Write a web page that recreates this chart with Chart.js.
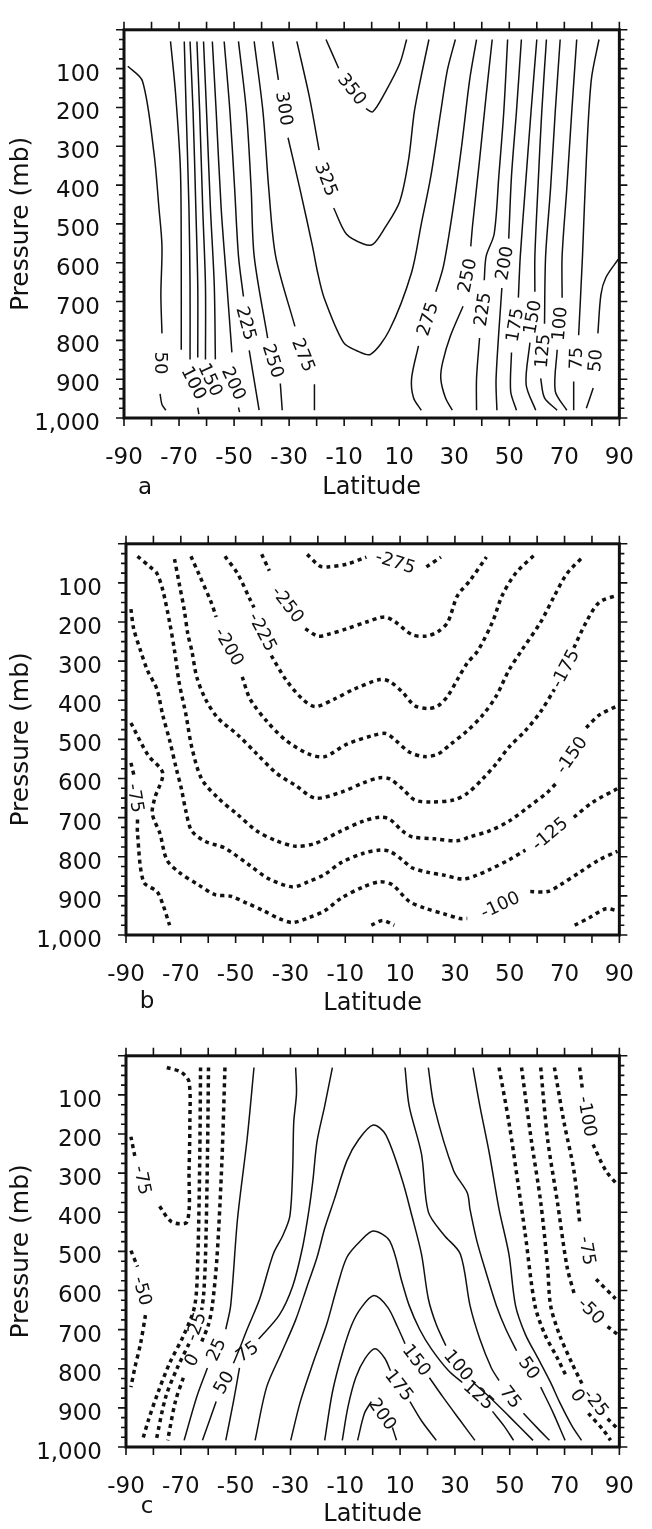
<!DOCTYPE html>
<html>
<head>
<meta charset="utf-8">
<title>Zonal mean cross sections</title>
<script src="https://cdn.jsdelivr.net/npm/chart.js@4.4.1/dist/chart.umd.min.js"></script>
<style>
  html, body { margin: 0; padding: 0; background: #fff; }
  canvas { position: absolute; left: 0; }
</style>
</head>
<body>
<canvas id="panelA" width="652" height="510" style="top:0px"></canvas>
<canvas id="panelB" width="652" height="510" style="top:514px"></canvas>
<canvas id="panelC" width="652" height="503" style="top:1026px"></canvas>
<script>
const FONT = 'DejaVu Sans';

// axis labels shared by the three panels
const latTicks = [-90, -70, -50, -30, -10, 10, 30, 50, 70, 90];
const pressTicks = [100, 200, 300, 400, 500, 600, 700, 800, 900, 1000];

// ---- panel a : contour paths as [latitude, pressure], null = break for a label
const levelsA = [50, 75, 100, 125, 150, 175, 200, 225, 250, 275, 300, 325, 350,
                 275, 250, 225, 200, 175, 150, 125, 100, 75, 50];
const pathsA = [
  [[-88.6,94],[-83.3,132],[-79.1,318],[-77.3,459],[-76.2,558],[-76.6,682],[-76.2,782],null,[-76.9,938],[-76.2,965],[-74.8,980]],
  [[-73.1,30],[-71.3,161],[-69.5,360],[-69.2,583],[-69.2,824]],
  [[-68.1,30],[-67.4,211],[-66.4,459],[-66.0,658],[-66.0,849],null,[-63.2,973],[-62.8,990]],
  [[-66.0,30],[-64.9,211],[-63.9,459],[-63.2,658],[-63.2,844]],
  [[-63.5,30],[-62.5,211],[-61.4,459],[-60.4,658],[-60.4,849]],
  [[-61.1,30],[-60.0,211],[-58.6,459],[-57.2,658],[-56.8,849]],
  [[-57.9,30],[-56.5,211],[-54.7,459],[-52.6,658],[-50.8,831],null,[-48.4,973],[-48.0,985]],
  [[-53.6,30],[-51.5,211],[-49.8,409],[-48.4,583],[-46.6,687],null,[-44.5,826],[-40.9,980]],
  [[-48.4,30],[-45.5,211],[-43.8,409],[-42.7,583],[-37.8,794],null,[-33.2,911],[-32.5,980]],
  [[-42.7,30],[-39.5,211],[-37.4,409],[-34.9,583],[-27.9,764],null,[-20.8,913],[-20.8,980]],
  [[-36.0,30],[-33.9,129],null,[-30.4,278],[-26.1,409],[-21.5,558],[-19.8,620],[-17.3,690],[-10.2,806],[-5.6,826],[-0.4,836],[6.4,774],[14.5,625],[18.0,501],[21.5,377],[25.1,211],[27.5,104],[30.4,25]],
  [[-27.2,30],[-22.6,174],[-19.1,310],null,[-13.8,459],[-9.2,526],[-3.2,551],[0.4,553],[4.9,509],[10.2,442],[13.4,335],[15.5,211],[18.0,119],[20.8,25]],
  [[-16.6,25],[-12.0,99],null,[-2.1,203],[0.4,211],[4.9,161],[10.2,87],[12.7,25]],
  [[38.1,25],[35.6,129],[32.8,293],[29.6,459],[26.1,608],[23.3,675],null,[17.0,814],[14.5,898],[15.2,948],[18.0,980]],
  [[43.8,25],[41.6,169],[39.2,335],[36.7,501],[36.0,558],null,[33.2,712],[28.6,789],[25.8,856],[25.1,898],[26.8,948],[29.3,980]],
  [[49.4,25],[48.0,211],[46.2,377],[44.5,526],[41.6,583],[40.9,645],null,[39.2,794],[38.1,898],[38.1,980]],
  [[54.4,25],[52.6,211],[50.8,377],[49.8,538],null,[47.3,665],[45.2,898],[45.5,980]],
  [[60.0,25],[57.9,211],[55.8,409],[54.0,583],[53.3,690],null,[50.8,831],[50.5,931],[52.6,980]],
  [[63.5,25],[61.8,211],[60.4,409],[59.3,583],[59.3,675],null,[57.5,806],[56.1,913],[59.6,980]],
  [[68.5,25],[66.7,211],[65.0,409],[63.2,583],[62.8,757],null,[61.4,898],[62.8,948],[67.4,980]],
  [[74.5,25],[72.7,211],[70.9,409],[69.2,583],[69.2,690],null,[67.4,824],[66.7,931],[70.9,980]],
  [[82.6,25],[79.8,129],[78.0,335],[76.6,583],[75.2,787],null,[73.4,906],[73.4,980]],
  [[89.6,591],[85.1,638],[83.3,682],[82.2,782],null,[80.5,923],[78.0,975]]
];
// [path index, latitude, pressure, angle in degrees]
const labelsA = [
  [0,-76.5,858,90],[2,-64.6,910,63],[4,-58.6,901,65],[6,-50.1,911,65],
  [7,-45.6,756,75],[8,-35.8,853,72],[9,-24.8,838,68],[10,-31.8,203,81],
  [11,-16.5,385,69],[12,-7.1,153,52],[13,20.3,745,-72],[14,34.7,633,-78],
  [15,40.3,720,-82],[16,48.2,601,-80],[17,52.0,760,-80],[18,58.4,740,-80],
  [19,62.1,827,-85],[20,68.3,757,-85],[21,74.3,846,-88],[22,81.3,852,-85]
];

// ---- panel b
const levelsB = [-275, -250, -225, -200, -175, -150, -125, -100, -75, -75, -75];
const pathsB = [
  [[-23.9,27],[-19.3,57],[-16.5,59],[-9.4,52],[-2.3,34],null,[19.6,59],[24.9,34]],
  [[-40.5,27],[-37.7,69],null,[-24.6,217],[-20.0,236],[-16.5,232],[-9.4,217],[-2.3,200],[4.4,187],[8.3,200],[14.3,232],[19.6,236],[23.9,224],[27.4,200],[30.9,133],[35.5,94],[41.5,34]],
  [[-53.9,32],[-49.3,76],[-44.7,143],[-43.3,163],null,[-37.0,286],[-31.7,347],[-25.6,397],[-21.0,416],[-14.0,397],[-6.9,372],[2.6,347],[6.2,352],[10.8,379],[15.4,414],[20.3,421],[23.9,414],[27.4,389],[30.9,347],[34.5,305],[38.4,273],[43.7,200],[47.2,133],[52.1,76],[59.2,27]],
  [[-66.3,32],[-63.5,76],[-58.9,150],[-57.1,187],null,[-47.6,340],[-44.7,397],[-38.7,453],[-31.7,502],[-23.5,537],[-17.5,544],[-9.4,512],[0.2,490],[4.8,485],[8.3,502],[13.3,532],[18.9,544],[23.9,537],[28.5,512],[34.5,478],[40.1,438],[45.1,389],[49.7,323],[54.3,273],[61.3,200],[66.3,133],[70.9,76],[76.9,32]],
  [[-72.3,39],[-70.6,101],[-68.8,167],[-67.4,232],[-66.0,273],[-64.2,340],[-61.0,397],[-56.4,446],[-49.3,488],[-42.3,537],[-35.2,586],[-28.1,618],[-21.0,650],[-11.5,635],[-3.4,611],[2.6,598],[6.2,601],[10.8,626],[15.4,655],[21.4,660],[29.5,655],[34.5,638],[40.1,601],[45.1,562],[49.7,520],[55.7,478],[61.3,429],[66.3,372],null,[73.4,266],[77.9,200],[82.6,150],[89.3,131]],
  [[-85.8,32],[-81.2,59],[-78.7,76],[-76.6,118],[-74.1,200],[-72.3,273],[-70.6,355],[-68.1,438],[-66.0,520],[-62.4,601],[-56.4,650],[-49.3,692],[-42.3,734],[-35.2,759],[-28.1,773],[-21.0,766],[-11.5,734],[-3.4,709],[2.6,699],[6.2,704],[10.8,734],[14.3,749],[22.4,754],[30.9,759],[35.5,749],[42.6,734],[49.7,709],[56.4,675],[63.8,635],[67.1,611],null,[77.9,470],[82.6,438],[89.3,414]],
  [[-88.2,167],[-87.2,217],[-84.7,273],[-82.2,323],[-78.7,372],[-76.6,438],[-74.1,502],[-71.6,576],[-69.8,626],[-68.1,685],[-66.0,734],[-61.0,761],[-53.9,778],[-44.7,823],[-37.7,857],[-29.2,877],[-23.5,864],[-17.5,845],[-11.5,815],[-3.4,791],[2.6,783],[6.2,786],[10.8,808],[14.3,828],[20.3,840],[26.0,847],[33.0,857],[38.0,847],[42.6,833],[49.7,808],[55.7,783],null,[73.4,699],[80.4,660],[89.3,626]],
  [[-88.2,458],[-82.0,540],[-76.6,586],[-79.5,650],[-80.4,690],[-77.6,741],[-75.1,808],[-70.6,840],[-63.5,872],[-57.5,897],[-51.8,901],[-45.8,919],[-39.8,938],[-34.1,958],[-29.2,968],[-23.5,956],[-17.5,938],[-11.5,906],[-3.4,877],[2.6,864],[7.2,872],[13.3,914],[18.9,931],[26.0,946],[32.0,958],[34.5,958],null,[57.5,889],[63.8,889],[68.4,872],[75.5,840],[82.6,808],[89.3,786]],
  [[-88.2,560],[-87.0,595],null,[-85.8,705],[-85.8,741],[-83.6,864],[-78.7,889],[-76.6,921],[-74.1,975]],
  [[-0.5,975],[3.7,963],[7.9,975]],
  [[73.7,975],[79.0,956],[85.0,933],[89.3,938]]
];
const labelsB = [
  [0,8.3,47,18],[1,-31.0,155,52],[2,-40.2,225,62],[3,-52.4,263,60],
  [4,70.2,319,-62],[5,72.5,540,-55],[6,64.6,741,-40],[7,46.5,923,-25],[8,-86.5,650,80]
];

// ---- panel c
const levelsC = [25, 50, 75, 100, 125, 150, 175, 200, 75, 50, 25, 0, -25, -50, -75, -100,
                 -75, -50, -25, 0, -50];
const pathsC = [
  [[-43.3,30],[-45.8,212],[-49.3,416],[-51.8,638],[-53.6,699],null,[-60.3,798],[-64.2,872],[-68.8,983]],
  [[-28.1,30],[-27.8,96],[-28.8,170],[-29.2,293],[-30.2,409],[-32.7,458],[-36.3,507],[-41.2,621],[-45.8,699],[-48.6,749],[-50.8,786],null,[-57.1,884],[-62.1,983]],
  [[-14.7,30],[-17.5,128],[-20.3,219],[-21.8,318],[-23.2,392],[-25.6,490],[-29.2,589],[-34.1,663],[-41.6,724],null,[-48.6,798],[-50.8,884],[-53.6,983]],
  [[-42.9,983],[-38.7,847],[-33.4,761],[-28.1,675],[-23.9,589],[-20.3,515],[-17.5,441],[-14.0,367],[-9.4,268],[-5.1,214],[0.2,177],[4.8,202],[10.8,318],[14.3,409],[17.8,507],[20.3,621],[23.2,687],[26.7,741],null,[36.6,835],[42.6,872],[49.7,921],[58.5,983]],
  [[-29.9,983],[-26.4,884],[-21.8,786],[-16.8,687],[-12.9,589],[-9.4,515],[-4.4,473],[0.2,448],[6.2,473],[10.8,581],[13.3,638],[17.1,699],[21.4,749],[27.7,805],[32.7,835],null,[43.7,909],[47.9,946],[51.4,983]],
  [[-17.5,983],[-14.7,860],[-11.1,761],[-7.6,687],[-4.1,643],[0.5,613],[5.5,643],[9.0,692],[11.8,736],null,[20.7,823],[25.6,872],[32.0,933],[37.3,983]],
  [[-11.1,983],[-9.0,897],[-6.2,823],[-2.7,773],[0.9,749],[4.4,773],[6.5,805],null,[13.6,884],[17.8,933],[23.2,983]],
  [[-5.5,983],[-3.0,914],[-0.5,884],null,[7.2,950],[8.7,983]],
  [[11.8,30],[13.3,128],[17.8,251],[20.3,399],[26.0,458],[32.0,507],[35.5,638],[39.1,724],[43.3,798],[46.1,830],null,[55.0,914],[60.3,953],[64.5,983]],
  [[20.3,30],[22.4,128],[29.5,293],[34.5,350],[35.5,392],[38.0,473],[41.5,557],[45.1,638],[48.6,699],[52.5,754],null,[61.3,847],[65.6,909],[70.2,983]],
  [[36.6,30],[39.1,128],[42.6,251],[46.1,392],[49.7,507],[52.1,638],[55.7,712],[60.3,773],[64.9,835],[68.1,884],[72.7,946],[76.2,983]],
  [[46.1,30],[49.7,170],[53.2,335],[55.7,458],[59.2,638],[62.8,712],[67.4,773],[70.9,823],null,[78.7,914],[84.3,958],[86.8,983]],
  [[54.3,30],[57.8,212],[61.3,374],[63.8,539],[64.9,638],[68.1,712],[72.7,786],[76.5,840],null,[85.7,928],[89.3,953]],
  [[61.3,30],[63.8,212],[67.4,374],[70.9,539],[73.7,613],null,[85.7,692],[89.3,712]],
  [[66.3,30],[69.8,170],[73.4,293],[75.5,424],null,[81.5,571],[88.6,621]],
  [[75.5,30],[76.5,84],null,[80.4,227],[85.0,293],[89.3,330]],
  [[-75.1,30],[-69.8,42],[-67.0,67],[-66.7,170],[-67.0,293],[-67.7,424],[-73.4,424],[-78.3,379],null,[-86.8,256],[-88.2,207]],
  [[-62.8,30],[-63.1,268],[-63.8,515],[-64.9,638],[-68.8,712],[-74.1,786],[-78.3,860],[-81.9,933],[-84.0,983]],
  [[-59.9,30],[-60.3,268],[-61.0,515],[-61.7,613],[-62.4,650],null,[-67.0,736],[-71.3,798],[-75.5,872],[-79.0,983]],
  [[-53.9,30],[-55.0,268],[-56.8,515],[-58.5,638],[-59.9,687],[-62.4,731],null,[-69.1,823],[-72.0,884],[-74.8,983]],
  [[-88.2,498],[-85.8,539],null,[-82.9,663],[-84.7,736],[-86.8,798],[-88.2,847]]
];
const labelsC = [
  [0,-57.1,751,-65],[1,-54.3,835,-60],[2,-45.8,756,-35],[3,31.3,791,50],
  [4,38.7,867,42],[5,16.1,778,52],[6,9.7,842,52],[7,3.6,916,55],
  [8,50.4,872,52],[9,57.1,798,55],[11,74.8,868,55],[12,81.5,887,52],
  [13,79.7,652,45],[14,78.3,498,80],[15,78.3,155,80],[16,-84.0,318,78],
  [18,-64.5,692,-70],[19,-66.0,778,-62],[20,-84.0,601,75]
];

const fmt = v => String(v).replace(/\B(?=(\d{3})+(?!\d))/g, ',');

// split every path at its breaks; one dataset per unbroken piece
function contourSets(levels, paths) {
  const sets = [];
  paths.forEach((path, i) => {
    const dashed = levels[i] <= 0;
    let piece = [];
    const flush = () => {
      if (piece.length > 1) {
        sets.push({
          data: piece,
          showLine: true,
          pointRadius: 0,
          tension: 0.3,
          borderColor: '#111',
          borderWidth: dashed ? 3.5 : 1.5,
          borderDash: dashed ? [4, 4] : [],
          borderCapStyle: 'butt'
        });
      }
      piece = [];
    };
    path.forEach(pt => {
      if (pt) piece.push({ x: pt[0], y: pt[1] });
      else flush();
    });
    flush();
  });
  return sets;
}

// box, tick marks, contour labels and panel letter
const framePlugin = {
  id: 'frame',
  afterDatasetsDraw(chart, args, opts) {
    const { ctx, chartArea: a } = chart;
    const x = chart.scales.x, y = chart.scales.y;
    ctx.save();
    ctx.fillStyle = '#111';
    ctx.textAlign = 'center';
    ctx.textBaseline = 'middle';
    ctx.font = '18px "' + FONT + '"';
    opts.labels.forEach(([k, lat, p, ang]) => {
      ctx.save();
      ctx.translate(x.getPixelForValue(lat), y.getPixelForValue(p));
      ctx.rotate(ang * Math.PI / 180);
      ctx.fillText(String(opts.levels[k]), 0, 1);
      ctx.restore();
    });

    ctx.strokeStyle = '#111';
    ctx.lineWidth = 3;
    ctx.strokeRect(a.left, a.top, a.right - a.left, a.bottom - a.top);
    ctx.lineWidth = 1.6;
    ctx.beginPath();
    for (let v = -90; v <= 90; v += 10) {
      const px = x.getPixelForValue(v);
      ctx.moveTo(px, a.top); ctx.lineTo(px, a.top - 8);
      ctx.moveTo(px, a.bottom); ctx.lineTo(px, a.bottom + 8);
    }
    for (let v = 0; v <= 1000; v += 25) {
      const py = y.getPixelForValue(v);
      const len = v % 100 === 0 ? 8 : 5;
      ctx.moveTo(a.left, py); ctx.lineTo(a.left - len, py);
      ctx.moveTo(a.right, py); ctx.lineTo(a.right + len, py);
    }
    ctx.stroke();

    ctx.font = '23px "' + FONT + '"';
    ctx.fillText(opts.letter, a.left + 21, chart.height - 22);
    ctx.restore();
  }
};

function makePanel(id, levels, paths, labels, letter, cfg) {
  return new Chart(document.getElementById(id), {
    type: 'scatter',
    data: { datasets: contourSets(levels, paths) },
    options: {
      responsive: false,
      animation: false,
      events: [],
      layout: { padding: { top: 15, right: cfg.right, left: 0, bottom: 0 } },
      plugins: {
        legend: { display: false },
        tooltip: { enabled: false },
        frame: { levels, labels, letter }
      },
      scales: {
        x: {
          type: 'linear', min: -90, max: 90,
          afterBuildTicks: s => { s.ticks = latTicks.map(v => ({ value: v })); },
          afterFit: s => { s.height = cfg.xHeight; },
          grid: { display: false },
          border: { display: false },
          ticks: { color: '#111', font: { family: FONT, size: 23 }, padding: 18, maxRotation: 0, autoSkip: false },
          title: { display: true, text: 'Latitude', color: '#111', font: { family: FONT, size: 24 }, padding: cfg.titlePad }
        },
        y: {
          type: 'linear', min: 0, max: 1000, reverse: true,
          afterBuildTicks: s => { s.ticks = pressTicks.map(v => ({ value: v })); },
          afterFit: s => { s.width = cfg.left; },
          grid: { display: false },
          border: { display: false },
          ticks: { color: '#111', font: { family: FONT, size: 23 }, padding: 16, labelOffset: 6, autoSkip: false, callback: v => fmt(v) },
          title: { display: true, text: 'Pressure (mb)', color: '#111', font: { family: FONT, size: 25 }, padding: { top: 6, bottom: 0 } }
        }
      }
    },
    plugins: [framePlugin]
  });
}

makePanel('panelA', levelsA, pathsA, labelsA, 'a', { left: 124, right: 18, xHeight: 92, titlePad: 8 });
makePanel('panelB', levelsB, pathsB, labelsB, 'b', { left: 126, right: 17, xHeight: 89, titlePad: 6 });
makePanel('panelC', levelsC, pathsC, labelsC, 'c', { left: 126, right: 17, xHeight: 82, titlePad: 0 });
</script>
</body>
</html>
